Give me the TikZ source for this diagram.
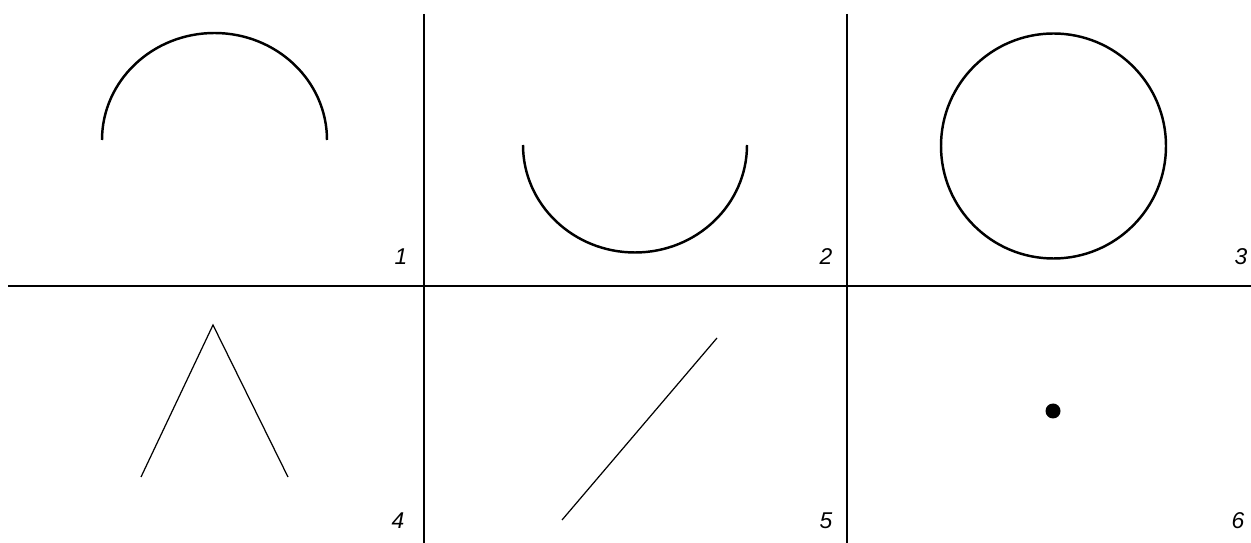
\documentclass[tikz,border=0pt]{standalone}
\usepackage{fontspec}
\setmainfont{Liberation Sans}
\begin{document}
\begin{tikzpicture}[x=0.02cm,y=-0.02cm,
  thin line/.style={line width=0.7pt,black},
  curve/.style={line width=1.4pt,black},
  lab/.style={font=\fontsize{13}{15}\selectfont\itshape,inner sep=0pt}]
\useasboundingbox (0,0) rectangle (1251,543);
\coordinate (hL) at (8,286);
\coordinate (hR) at (1251,286);
\coordinate (v1T) at (424,14);
\coordinate (v1B) at (424,543);
\coordinate (v2T) at (847,14);
\coordinate (v2B) at (847,543);
\draw[thin line] (hL) -- (hR);
\draw[thin line] (v1T) -- (v1B);
\draw[thin line] (v2T) -- (v2B);
% 1: upper arc (y axis flipped)
\draw[curve] (102,140) arc[start angle=180,end angle=360,x radius=112.5,y radius=107];
% 2: lower arc
\draw[curve] (523,145) arc[start angle=180,end angle=0,x radius=112,y radius=107.5];
% 3: circle
\draw[curve] (1053.5,146) circle[radius=112.5];
% 4: lambda
\coordinate (a1) at (141,477);
\coordinate (a2) at (213,325);
\coordinate (a3) at (288,477);
\draw[thin line] (a1) -- (a2) -- (a3);
% 5: line
\coordinate (b1) at (562,520);
\coordinate (b2) at (717,338);
\draw[thin line] (b1) -- (b2);
% 6: dot
\fill (1053,411) circle[radius=7.5];
% labels
\node[lab] (l1) at (401,257) {1};
\node[lab] (l2) at (826,257) {2};
\node[lab] (l3) at (1241,257) {3};
\node[lab] (l4) at (398,521) {4};
\node[lab] (l5) at (826,521) {5};
\node[lab] (l6) at (1238,521) {6};
\end{tikzpicture}
\end{document}
